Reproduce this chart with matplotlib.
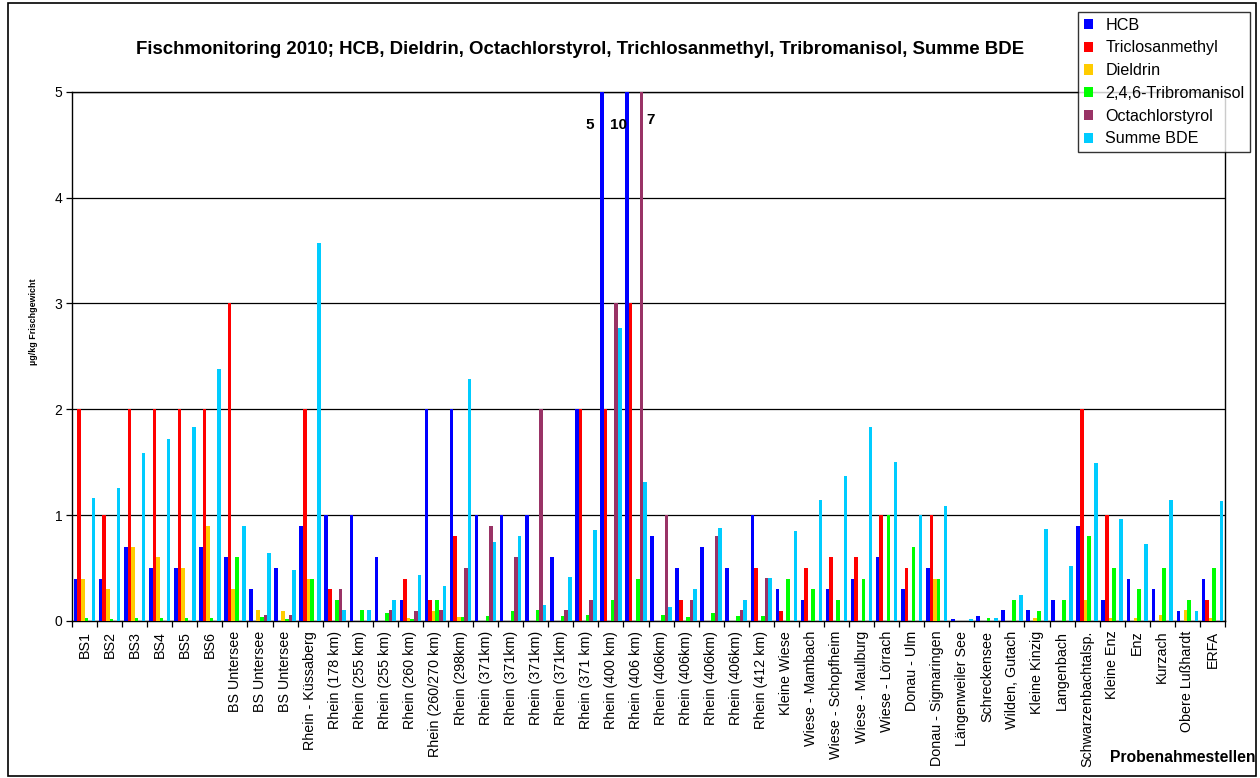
import numpy as np
import matplotlib
matplotlib.use("Agg")
import matplotlib.pyplot as plt
import matplotlib.patches as mpatches

plt.rcParams['font.family'] = ['Liberation Sans', 'DejaVu Sans']

# Probenahmestellen
sites = [
    'BS1', 'BS2', 'BS3', 'BS4', 'BS5', 'BS6',
    'BS Untersee', 'BS Untersee', 'BS Untersee', 'Rhein - Küssaberg',
    'Rhein (178 km)', 'Rhein (255 km)', 'Rhein (255 km)', 'Rhein (260 km)',
    'Rhein (260/270 km)', 'Rhein (298km)', 'Rhein (371km)', 'Rhein (371km)',
    'Rhein (371km)', 'Rhein (371km)', 'Rhein (371 km)', 'Rhein (400 km)',
    'Rhein (406 km)', 'Rhein (406km)', 'Rhein (406km)', 'Rhein (406km)',
    'Rhein (406km)', 'Rhein (412 km)', 'Kleine Wiese', 'Wiese - Mambach',
    'Wiese - Schopfheim', 'Wiese - Maulburg', 'Wiese - Lörrach', 'Donau - Ulm',
    'Donau - Sigmaringen', 'Längenweiler See', 'Schreckensee', 'Wilden, Gutach',
    'Kleine Kinzig', 'Langenbach', 'Schwarzenbachtalsp.', 'Kleine Enz', 'Enz',
    'Kurzach', 'Obere Lußhardt', 'ERFA',
]

# values in µg/kg Frischgewicht
hcb = [0.4, 0.4, 0.7, 0.5, 0.5, 0.7, 0.6, 0.3, 0.5, 0.9,
       1.0, 1.0, 0.6, 0.2, 2.0, 2.0, 1.0, 1.0, 1.0, 0.6,
       2.0, 5.0, 10.0, 0.8, 0.5, 0.7, 0.5, 1.0, 0.3, 0.2,
       0.3, 0.4, 0.6, 0.3, 0.5, 0.02, 0.05, 0.1, 0.1, 0.2,
       0.9, 0.2, 0.4, 0.3, 0.09, 0.4]
triclosanmethyl = [2.0, 1.0, 2.0, 2.0, 2.0, 2.0, 3.0, 0, 0, 2.0,
                   0.3, 0, 0, 0.4, 0.2, 0.8, 0, 0, 0, 0,
                   2.0, 2.0, 3.0, 0, 0.2, 0, 0, 0.5, 0.09, 0.5,
                   0.6, 0.6, 1.0, 0.5, 1.0, 0, 0, 0, 0, 0,
                   2.0, 1.0, 0, 0, 0, 0.2]
dieldrin = [0.4, 0.3, 0.7, 0.6, 0.5, 0.9, 0.3, 0.1, 0.09, 0.4,
            0, 0, 0, 0.03, 0.09, 0.04, 0, 0, 0, 0,
            0, 0, 0, 0, 0, 0, 0, 0, 0, 0,
            0, 0, 0, 0, 0.4, 0, 0, 0, 0.03, 0,
            0.2, 0.03, 0.03, 0.06, 0.1, 0.03]
tribromanisol = [0.03, 0.015, 0.03, 0.03, 0.03, 0.03, 0.6, 0.04, 0.015, 0.4,
                 0.2, 0.1, 0.075, 0.015, 0.2, 0.04, 0.05, 0.09, 0.1, 0.05,
                 0.06, 0.2, 0.4, 0.06, 0.04, 0.075, 0.05, 0.05, 0.4, 0.3,
                 0.2, 0.4, 1.0, 0.7, 0.4, 0, 0.03, 0.2, 0.09, 0.2,
                 0.8, 0.5, 0.3, 0.5, 0.2, 0.5]
octachlorstyrol = [0, 0, 0, 0, 0, 0, 0, 0.06, 0.06, 0,
                   0.3, 0, 0.1, 0.09, 0.1, 0.5, 0.9, 0.6, 2.0, 0.1,
                   0.2, 3.0, 7.0, 1.0, 0.2, 0.8, 0.1, 0.41, 0, 0,
                   0, 0, 0, 0, 0, 0, 0, 0, 0, 0,
                   0, 0, 0, 0, 0, 0]
summe_bde = [1.16, 1.26, 1.59, 1.72, 1.83, 2.38, 0.9, 0.64, 0.48, 3.57,
             0.1, 0.1, 0.2, 0.43, 0.33, 2.29, 0.75, 0.8, 0.15, 0.42,
             0.86, 2.77, 1.31, 0.13, 0.3, 0.88, 0.2, 0.41, 0.85, 1.14,
             1.37, 1.83, 1.5, 1.0, 1.09, 0.015, 0.03, 0.25, 0.87, 0.52,
             1.49, 0.96, 0.73, 1.14, 0.09, 1.13]

series = [
    ('HCB', hcb, '#0000FF'),
    ('Triclosanmethyl', triclosanmethyl, '#FF0000'),
    ('Dieldrin', dieldrin, '#FFCC00'),
    ('2,4,6-Tribromanisol', tribromanisol, '#00FF00'),
    ('Octachlorstyrol', octachlorstyrol, '#993366'),
    ('Summe BDE', summe_bde, '#00CCFF'),
]

# bars that run off the top of the axis get their value written next to them
# (site index, series index, x offset in bar widths, y)
offscale = [(21, 0, -3.5, 4.69), (22, 0, -2.3, 4.69), (22, 4, 2.5, 4.73)]

fig = plt.figure(figsize=(12.6, 7.78), dpi=100, facecolor='white')
ax = fig.add_axes([72 / 1260, 1 - 621 / 778, (1225 - 72) / 1260, (621 - 91.7) / 778])

x = np.arange(len(sites))
w = 1 / 7
for i, (name, vals, col) in enumerate(series):
    ax.bar(x + (i - 2.5) * w, vals, width=w, color=col, edgecolor='none',
           label=name, zorder=3)

for site, s, dx, y in offscale:
    val = series[s][1][site]
    ax.text(site + (s - 2.5) * w + dx * w, y, f'{val:g}', ha='center', va='center',
            fontsize=11, fontweight='bold', color='black', zorder=4)

ax.set_xlim(-0.5, len(sites) - 0.5)
ax.set_ylim(0, 5)
ax.set_yticks([0, 1, 2, 3, 4, 5])
ax.yaxis.grid(True, color='black', linewidth=0.9, zorder=1)
ax.set_axisbelow(True)

ax.set_xticks(x)
ax.set_xticklabels(sites, rotation=90, fontsize=10.3, va='top', ha='center')
ax.set_xticks(np.arange(len(sites) + 1) - 0.5, minor=True)
ax.tick_params(axis='x', which='major', length=0, pad=7)
ax.tick_params(axis='x', which='minor', length=4, width=0.9, direction='out')
ax.tick_params(axis='y', length=4, width=0.9, direction='out', labelsize=10, pad=3)
for sp in ax.spines.values():
    sp.set_color('black')
    sp.set_linewidth(1.0)

fig.text(580 / 1260, 1 - 50 / 778,
         'Fischmonitoring 2010; HCB, Dieldrin, Octachlorstyrol, Trichlosanmethyl, '
         'Tribromanisol, Summe BDE',
         ha='center', va='center', fontsize=13.4, fontweight='bold')
fig.text(33 / 1260, 1 - 322 / 778, 'µg/kg Frischgewicht', rotation=90,
         ha='center', va='center', fontsize=6.4, fontweight='bold')
fig.text(1183 / 1260, 1 - 757 / 778, 'Probenahmestellen', ha='center', va='center',
         fontsize=11.3, fontweight='bold')

handles = [mpatches.Patch(facecolor=col, edgecolor='none', label=name)
           for name, vals, col in series]
leg = fig.legend(handles=handles, loc='upper left',
                 bbox_to_anchor=(1078 / 1260, 1 - 12 / 778),
                 fontsize=11.6, frameon=True, fancybox=False, borderaxespad=0,
                 handlelength=0.6, handleheight=0.6, handletextpad=0.75,
                 labelspacing=0.48, borderpad=0.35)
leg.get_frame().set_edgecolor('black')
leg.get_frame().set_linewidth(1.0)

# outer chart border
fig.patches.append(mpatches.Rectangle((8 / 1260, 2 / 778), 1248 / 1260, 773 / 778,
                                      transform=fig.transFigure, fill=False,
                                      edgecolor='black', linewidth=1.2))

fig.savefig('out.png', dpi=100, facecolor='white')
